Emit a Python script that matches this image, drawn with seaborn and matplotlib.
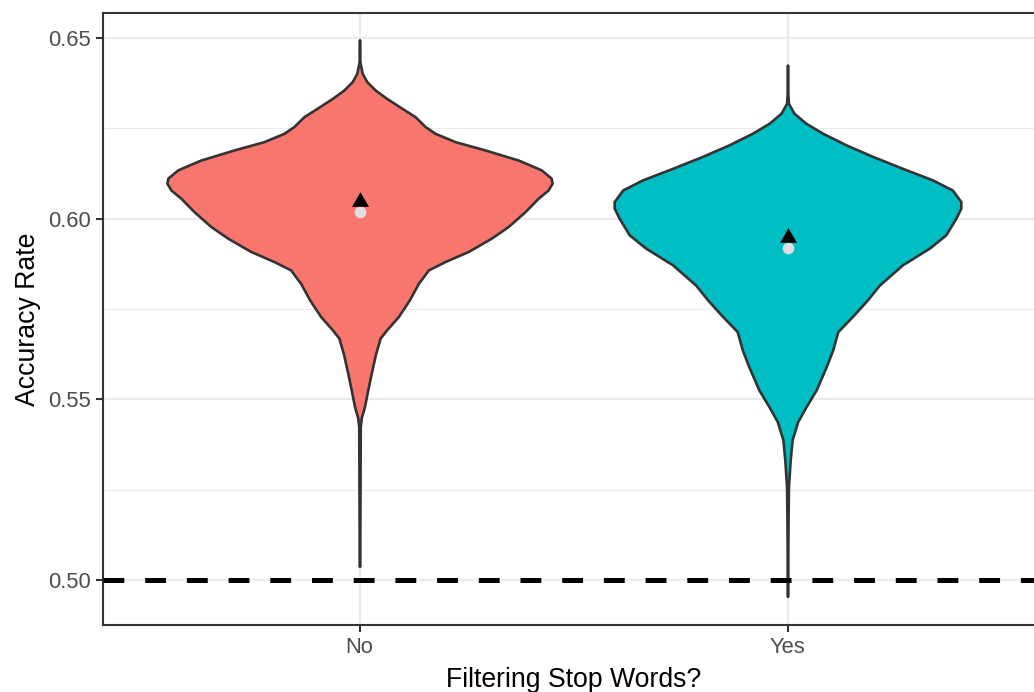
import numpy as np
import matplotlib
matplotlib.use("Agg")
import matplotlib.pyplot as plt
import seaborn as sns
from matplotlib.ticker import FixedLocator

# Categories and fill colours
groups = ["No", "Yes"]
fills = ["#F8766D", "#00BFC4"]

# Estimated accuracy density for each group (relative to the tallest peak)
acc_no = [0.6495, 0.6434, 0.6402, 0.6379, 0.6356, 0.6333, 0.6306, 0.6282,
          0.6255, 0.6236, 0.6213, 0.6190, 0.6162, 0.6135, 0.6112, 0.6098,
          0.6079, 0.6056, 0.6019, 0.5978, 0.5946, 0.5909, 0.5881, 0.5858,
          0.5821, 0.5775, 0.5729, 0.5692, 0.5669, 0.5627, 0.5572, 0.5526,
          0.5480, 0.5448, 0.5424, 0.5300, 0.5150, 0.5037]
dens_no = [0.000, 0.002, 0.014, 0.038, 0.081, 0.140, 0.218, 0.289,
           0.340, 0.392, 0.496, 0.651, 0.824, 0.943, 0.995, 1.000,
           0.979, 0.927, 0.859, 0.772, 0.685, 0.565, 0.444, 0.358,
           0.306, 0.259, 0.202, 0.141, 0.107, 0.084, 0.061, 0.043,
           0.026, 0.009, 0.004, 0.003, 0.002, 0.000]

acc_yes = [0.6425, 0.6351, 0.6319, 0.6292, 0.6264, 0.6236, 0.6204, 0.6172,
           0.6139, 0.6107, 0.6079, 0.6047, 0.6029, 0.6001, 0.5955, 0.5918,
           0.5872, 0.5816, 0.5775, 0.5729, 0.5687, 0.5637, 0.5590, 0.5526,
           0.5480, 0.5438, 0.5388, 0.5332, 0.5258, 0.5175, 0.4954]
dens_yes = [0.000, 0.001, 0.005, 0.033, 0.095, 0.183, 0.304, 0.442,
            0.597, 0.753, 0.856, 0.900, 0.900, 0.874, 0.822, 0.736,
            0.597, 0.477, 0.415, 0.337, 0.261, 0.235, 0.201, 0.149,
            0.097, 0.053, 0.024, 0.014, 0.005, 0.003, 0.000]

# Summary statistics per group
mean_acc = [0.6053, 0.5955]
median_acc = [0.6019, 0.5919]

# Chance level reference
chance = 0.5

y_ticks = [0.50, 0.55, 0.60, 0.65]
y_minor = [0.525, 0.575, 0.625]

sns.set_theme(style="white")
plt.rcParams["font.family"] = ["Liberation Sans", "DejaVu Sans"]

fig = plt.figure(figsize=(10.34, 6.92), dpi=100)
ax = fig.add_axes([102.7 / 1034, 67 / 692, 941.6 / 1034, 612 / 692])

pos = np.arange(len(groups))
half = 0.45  # half of the violin width for the densest group

profiles = [(acc_no, dens_no), (acc_yes, dens_yes)]
for i, (acc, dens) in enumerate(profiles):
    acc = np.asarray(acc)
    dens = np.asarray(dens)
    ax.fill_betweenx(acc, pos[i] - half * dens, pos[i] + half * dens,
                     facecolor=fills[i], edgecolor="#333333",
                     linewidth=1.9, joinstyle="round", zorder=2)

ax.axhline(chance, color="black", linewidth=3.6, dashes=(4.17, 4.17), zorder=3)

sns.scatterplot(x=pos, y=median_acc, color="#DEDEDE", s=8.4 ** 2,
                linewidth=0, marker="o", ax=ax, zorder=4)
tri = [(-1.0, -0.866), (1.0, -0.866), (0.0, 0.866)]
sns.scatterplot(x=pos, y=mean_acc, color="black", s=12.2 ** 2,
                linewidth=0, marker=tri, ax=ax, zorder=5)

ax.set_xlim(-0.6, 1.6)
ax.set_ylim(0.4875, 0.6569)
ax.set_xticks(pos)
ax.set_xticklabels(groups)
ax.set_yticks(y_ticks)
ax.set_yticklabels([f"{v:.2f}" for v in y_ticks])
ax.yaxis.set_minor_locator(FixedLocator(y_minor))

ax.set_axisbelow(True)
ax.grid(which="major", color="#EBEBEB", linewidth=1.6)
ax.grid(which="minor", axis="y", color="#EBEBEB", linewidth=0.8)

for sp in ax.spines.values():
    sp.set_visible(True)
    sp.set_color("#333333")
    sp.set_linewidth(1.5)

ax.tick_params(axis="both", which="major", bottom=True, left=True,
               length=4.8, width=1.5, color="#333333",
               labelcolor="#4D4D4D", labelsize=15.8, pad=3.5)
ax.tick_params(axis="both", which="minor", length=0)

ax.set_xlabel("Filtering Stop Words?", fontsize=19.2, color="black", labelpad=6.5)
ax.set_ylabel("Accuracy Rate", fontsize=19.2, color="black", labelpad=5)

fig.savefig("out.png", dpi=100)
